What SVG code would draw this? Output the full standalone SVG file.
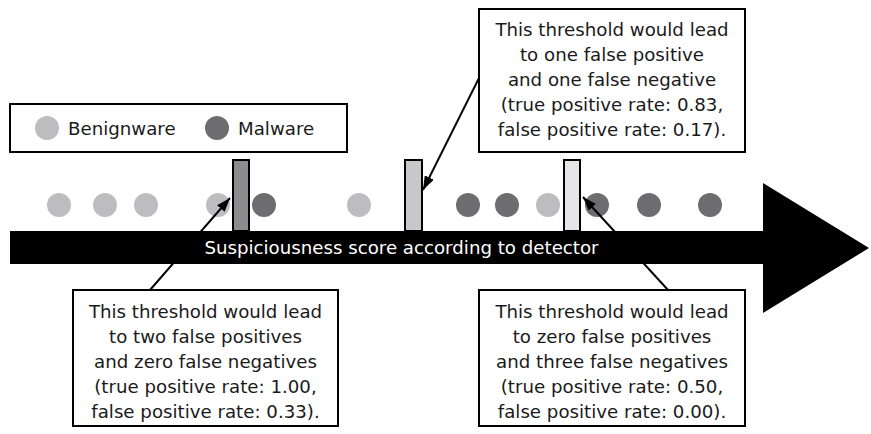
<svg xmlns="http://www.w3.org/2000/svg" width="871" height="434" viewBox="0 0 871 434">
<style>
text{font-family:"DejaVu Sans","Liberation Sans",sans-serif;font-size:18.2px;fill:#1a1a1a}
.c{text-anchor:middle}
.box{fill:#fff;stroke:#000;stroke-width:2}
.ben{fill:#bdbdbf}
.mal{fill:#6d6d70}
.bar{stroke:#000;stroke-width:2}
.conn{stroke:#000;stroke-width:2;fill:none;marker-end:url(#ah)}
</style>
<defs>
<marker id="ah" viewBox="0 0 14 10" refX="14" refY="5" markerWidth="14" markerHeight="10" markerUnits="userSpaceOnUse" orient="auto">
<path d="M0,0 L14,5 L0,10 z" fill="#000"/>
</marker>
</defs>
<g id="axis">
<path d="M10,231 L763,231 L763,183 L869,248 L763,313 L763,264 L10,264 z" fill="#000"/>
<text x="401.5" y="254" class="c" style="fill:#fff">Suspiciousness score according to detector</text>
</g>
<g id="points">
<circle cx="59" cy="205" r="12" class="ben"/>
<circle cx="105" cy="205" r="12" class="ben"/>
<circle cx="146" cy="205" r="12" class="ben"/>
<circle cx="218" cy="205" r="12" class="ben"/>
<circle cx="264" cy="205" r="12" class="mal"/>
<circle cx="359" cy="205" r="12" class="ben"/>
<circle cx="468" cy="205" r="12" class="mal"/>
<circle cx="507" cy="205" r="12" class="mal"/>
<circle cx="548" cy="205" r="12" class="ben"/>
<circle cx="597" cy="205" r="12" class="mal"/>
<circle cx="649" cy="205" r="12" class="mal"/>
<circle cx="710" cy="205" r="12" class="mal"/>
</g>
<g id="threshold1"><rect x="233" y="160" width="16" height="71" class="bar" fill="#8c8c8e"/></g>
<g id="threshold2"><rect x="405" y="160" width="17" height="71" class="bar" fill="#c8c8ca"/></g>
<g id="threshold3"><rect x="564" y="160" width="16" height="71" class="bar" fill="#e6e6e8"/></g>
<g id="legend">
<rect x="10" y="104" width="337" height="48" class="box" stroke-width="2.5"/>
<circle cx="47" cy="128" r="12" class="ben"/>
<text x="68" y="135">Benignware</text>
<circle cx="217" cy="128" r="12" class="mal"/>
<text x="238" y="135">Malware</text>
</g>
<g id="connectors">
<line x1="150" y1="290" x2="230" y2="198" class="conn"/>
<line x1="479" y1="78" x2="423" y2="190" class="conn"/>
<line x1="668" y1="290" x2="583" y2="197" class="conn"/>
</g>
<g id="note-top">
<rect x="479" y="9" width="266" height="143" class="box"/>
<text class="c" x="612" y="36">This threshold would lead</text>
<text class="c" x="612" y="61">to one false positive</text>
<text class="c" x="612" y="86">and one false negative</text>
<text class="c" x="612" y="111">(true positive rate: 0.83,</text>
<text class="c" x="612" y="136">false positive rate: 0.17).</text>
</g>
<g id="note-left">
<rect x="73" y="290" width="265" height="136" class="box"/>
<text class="c" x="205.5" y="318">This threshold would lead</text>
<text class="c" x="205.5" y="343">to two false positives</text>
<text class="c" x="205.5" y="368">and zero false negatives</text>
<text class="c" x="205.5" y="393">(true positive rate: 1.00,</text>
<text class="c" x="205.5" y="418">false positive rate: 0.33).</text>
</g>
<g id="note-right">
<rect x="479" y="290" width="266" height="136" class="box"/>
<text class="c" x="612" y="318">This threshold would lead</text>
<text class="c" x="612" y="343">to zero false positives</text>
<text class="c" x="612" y="368">and three false negatives</text>
<text class="c" x="612" y="393">(true positive rate: 0.50,</text>
<text class="c" x="612" y="418">false positive rate: 0.00).</text>
</g>
</svg>
